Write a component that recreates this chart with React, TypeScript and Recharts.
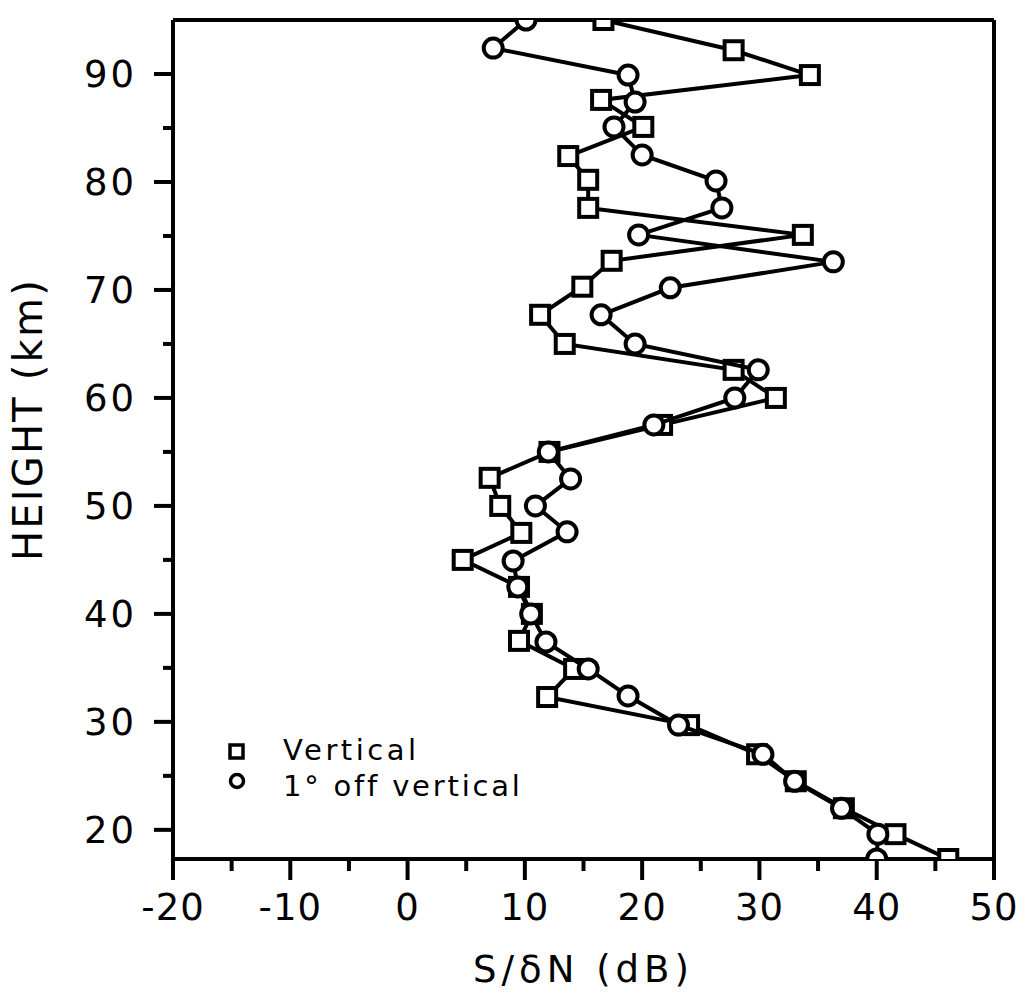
import React from 'react';
import { ScatterChart, Scatter, XAxis, YAxis, ReferenceLine, Legend } from 'recharts';

const verticalHeights = [95.0, 92.2, 89.9, 87.6, 85.1, 82.4, 80.2, 77.6, 75.1, 72.7, 70.3, 67.7, 65.0, 62.6, 60.0, 57.5, 55.0, 52.6, 50.0, 47.5, 45.0, 42.5, 40.0, 37.5, 34.9, 32.3, 29.7, 27.0, 24.5, 22.0, 19.6, 17.3];
const verticalValues = [16.7, 27.8, 34.3, 16.5, 20.1, 13.7, 15.4, 15.4, 33.7, 17.4, 14.9, 11.3, 13.4, 27.8, 31.4, 21.7, 12.1, 7.0, 7.9, 9.7, 4.7, 9.5, 10.6, 9.5, 14.2, 11.9, 24.0, 29.8, 33.1, 37.2, 41.6, 46.1];

const offHeights = [95.0, 92.4, 89.9, 87.4, 85.1, 82.5, 80.1, 77.6, 75.1, 72.6, 70.2, 67.7, 65.0, 62.6, 60.0, 57.5, 55.0, 52.5, 50.0, 47.6, 44.9, 42.5, 40.0, 37.4, 34.9, 32.4, 29.7, 27.0, 24.5, 22.0, 19.6, 17.3];
const offValues = [10.1, 7.3, 18.8, 19.4, 17.6, 20.0, 26.3, 26.8, 19.7, 36.3, 22.4, 16.5, 19.4, 29.9, 27.9, 21.0, 12.0, 13.9, 10.9, 13.6, 9.0, 9.4, 10.5, 11.8, 15.4, 18.8, 23.1, 30.3, 33.0, 37.0, 40.1, 40.0];

const xTicks = [-20, -15, -10, -5, 0, 5, 10, 15, 20, 25, 30, 35, 40, 45, 50];
const yTicks = [20, 25, 30, 35, 40, 45, 50, 55, 60, 65, 70, 75, 80, 85, 90];
const xDomain = [-20, 50];
const yDomain = [17.3, 95];

const seriesNames = ['Vertical', '1° off vertical'];
const xTitle = 'S/δN  (dB)';
const yTitle = 'HEIGHT  (km)';

const verticalData = verticalHeights.map((h, i) => ({ h, x: verticalValues[i] }));
const offData = offHeights.map((h, i) => ({ h, x: offValues[i] }));

const FONT = "'DejaVu Sans', sans-serif";

const XTick = (props: any) => {
  const { x, y, payload } = props;
  const v = payload.value;
  const major = v % 10 === 0;
  return (
    <g>
      <line x1={x} x2={x} y1={y} y2={y + (major ? 21 : 12)} stroke="#000" strokeWidth={4} />
      {major && (
        <text x={x} y={y + 61} textAnchor="middle" fontSize={37} fontFamily={FONT} letterSpacing={1} fill="#000">
          {v}
        </text>
      )}
    </g>
  );
};

const YTick = (props: any) => {
  const { x, y, payload } = props;
  const v = payload.value;
  const major = v % 10 === 0;
  return (
    <g>
      <line x1={x - (major ? 19 : 10)} x2={x} y1={y} y2={y} stroke="#000" strokeWidth={4} />
      {major && (
        <text x={x - 36} y={y + 13.5} textAnchor="end" fontSize={37} fontFamily={FONT} letterSpacing={3} fill="#000">
          {v}
        </text>
      )}
    </g>
  );
};

const SquareShape = (props: any) => {
  const { cx, cy } = props;
  return <rect x={cx - 9} y={cy - 9} width={18} height={18} fill="#fff" stroke="#000" strokeWidth={4} />;
};

const CircleShape = (props: any) => {
  const { cx, cy } = props;
  return <circle cx={cx} cy={cy} r={9.5} fill="#fff" stroke="#000" strokeWidth={4} />;
};

const YLabel = (props: any) => {
  const vb = props.viewBox || { x: 0, y: 20, width: 173, height: 839 };
  const cx = vb.x + 28;
  const cy = vb.y + vb.height / 2 - 20;
  return (
    <text
      x={cx}
      y={cy}
      transform={`rotate(-90, ${cx}, ${cy})`}
      textAnchor="middle"
      dominantBaseline="central"
      fontSize={40}
      fontFamily={FONT}
      letterSpacing={2.2}
      fill="#000"
    >
      {yTitle}
    </text>
  );
};

const XLabel = (props: any) => {
  const vb = props.viewBox || { x: 173, y: 859, width: 821, height: 135 };
  const cx = vb.x + vb.width / 2;
  return (
    <text x={cx} y={vb.y + 123} textAnchor="middle" fontSize={37} fontFamily={FONT} letterSpacing={5} fill="#000">
      {xTitle}
    </text>
  );
};

const LegendContent = () => (
  <svg width={360} height={92} style={{ display: 'block' }}>
    <rect x={30} y={25} width={13} height={13} fill="#fff" stroke="#000" strokeWidth={3.5} />
    <text x={83} y={40} fontSize={29} fontFamily={FONT} letterSpacing={3.5} fill="#000">
      {seriesNames[0]}
    </text>
    <circle cx={37} cy={61} r={6.5} fill="#fff" stroke="#000" strokeWidth={3.5} />
    <text x={83} y={76} fontSize={29} fontFamily={FONT} letterSpacing={2.8} fill="#000">
      {seriesNames[1]}
    </text>
  </svg>
);

export default function App() {
  return (
    <div style={{ position: 'absolute', left: 0, top: 0, width: 1027, height: 994, background: '#fff' }}>
      <ScatterChart width={1027} height={994} margin={{ top: 20, right: 33, bottom: 0, left: 0 }}>
        <XAxis
          type="number"
          dataKey="x"
          domain={xDomain}
          ticks={xTicks}
          interval={0}
          allowDataOverflow
          height={135}
          tickSize={0}
          tickMargin={0}
          tick={<XTick />}
          tickLine={false}
          axisLine={{ stroke: '#000', strokeWidth: 4 }}
          label={<XLabel />}
        />
        <YAxis
          type="number"
          dataKey="h"
          domain={yDomain}
          ticks={yTicks}
          interval={0}
          allowDataOverflow
          width={173}
          tickSize={0}
          tickMargin={0}
          tick={<YTick />}
          tickLine={false}
          axisLine={{ stroke: '#000', strokeWidth: 4 }}
          label={<YLabel />}
        />
        <ReferenceLine y={95} stroke="#000" strokeWidth={4} />
        <ReferenceLine x={50} stroke="#000" strokeWidth={4} />
        <Legend
          layout="vertical"
          align="center"
          verticalAlign="middle"
          content={<LegendContent />}
          wrapperStyle={{ left: 200, top: 720, width: 360, height: 92 }}
        />
        <Scatter
          name={seriesNames[0]}
          data={verticalData}
          line={{ stroke: '#000', strokeWidth: 4 }}
          lineJointType="linear"
          shape={<SquareShape />}
          isAnimationActive={false}
        />
        <Scatter
          name={seriesNames[1]}
          data={offData}
          line={{ stroke: '#000', strokeWidth: 4 }}
          lineJointType="linear"
          shape={<CircleShape />}
          isAnimationActive={false}
        />
      </ScatterChart>
    </div>
  );
}
